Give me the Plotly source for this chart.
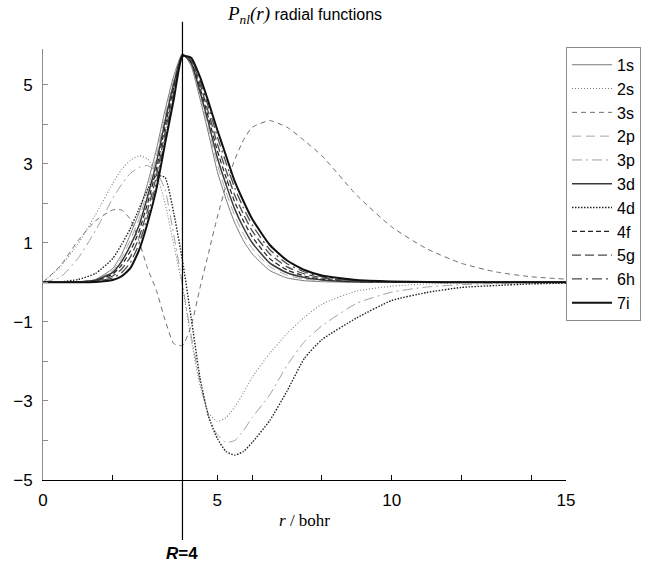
import plotly.graph_objects as go

# ---------------- data ----------------
r = [0, 0.5, 1, 1.5, 2, 2.25, 2.5, 2.75, 3, 3.25, 3.5, 3.75, 4, 4.25, 4.5, 4.75,
     5, 5.25, 5.5, 5.75, 6, 6.5, 7, 7.5, 8, 9, 10, 11, 12, 13, 14, 15]

p_1s = [0, 0, 0.01, 0.07, 0.35, 0.7, 1.2, 1.75, 2.5, 3.35, 4.35, 5.22, 5.79, 5.47, 4.65, 3.75,
        2.8, 2.1, 1.5, 1.05, 0.72, 0.3, 0.11, 0.04, 0.015, 0.002, 0, 0, 0, 0, 0, 0]
p_2s = [0, 0.4, 0.97, 1.7, 2.5, 2.85, 3.08, 3.2, 3.12, 2.75, 2.0, 0.95, -0.1, -1.45, -2.6, -3.3,
        -3.52, -3.42, -3.15, -2.8, -2.4, -1.8, -1.3, -0.88, -0.55, -0.22, -0.1, -0.04, -0.02, -0.01, 0, 0]
p_3s = [0, 0.42, 1.05, 1.55, 1.83, 1.83, 1.6, 1.05, 0.35, -0.2, -0.95, -1.55, -1.6, -1.1, -0.15, 0.75,
        1.65, 2.45, 3.1, 3.6, 3.92, 4.09, 3.92, 3.58, 3.2, 2.2, 1.4, 0.85, 0.48, 0.26, 0.14, 0.08]
p_2p = [0, 0, 0.01, 0.06, 0.30, 0.61, 1.06, 1.59, 2.33, 3.18, 4.21, 5.12, 5.77, 5.52, 4.74, 3.88,
        2.98, 2.28, 1.68, 1.22, 0.86, 0.4, 0.18, 0.08, 0.035, 0.008, 0, 0, 0, 0, 0, 0]
p_3p = [0, 0.13, 0.6, 1.3, 2.12, 2.47, 2.75, 2.9, 2.95, 2.8, 2.35, 1.2, -0.05, -1.35, -2.5, -3.4,
        -3.85, -4.05, -4.0, -3.75, -3.42, -2.85, -2.1, -1.5, -1.1, -0.53, -0.25, -0.12, -0.06, -0.03, -0.01, 0]
p_3d = [0, 0, 0.01, 0.05, 0.25, 0.52, 0.92, 1.43, 2.17, 3.02, 4.07, 5.02, 5.76, 5.55, 4.83, 4.02,
        3.15, 2.47, 1.85, 1.38, 1.0, 0.49, 0.24, 0.12, 0.06, 0.015, 0.005, 0, 0, 0, 0, 0]
p_4d = [0, 0.01, 0.07, 0.22, 0.6, 0.95, 1.35, 1.85, 2.35, 2.7, 2.65, 1.75, 0.55, -0.9, -2.4, -3.4,
        -3.95, -4.28, -4.37, -4.28, -4.05, -3.5, -2.75, -1.92, -1.45, -0.9, -0.46, -0.26, -0.13, -0.08, -0.04, -0.02]
p_4f = [0, 0, 0.01, 0.04, 0.21, 0.43, 0.78, 1.28, 2.0, 2.85, 3.93, 4.92, 5.75, 5.58, 4.93, 4.15,
        3.33, 2.65, 2.03, 1.55, 1.15, 0.6, 0.31, 0.16, 0.08, 0.02, 0.006, 0.002, 0, 0, 0, 0]
p_5g = [0, 0, 0, 0.03, 0.16, 0.33, 0.63, 1.12, 1.83, 2.68, 3.78, 4.82, 5.74, 5.62, 5.02, 4.28,
        3.5, 2.83, 2.2, 1.72, 1.3, 0.72, 0.39, 0.21, 0.11, 0.03, 0.01, 0.003, 0, 0, 0, 0]
p_6h = [0, 0, 0, 0.02, 0.11, 0.24, 0.49, 0.96, 1.67, 2.52, 3.64, 4.72, 5.73, 5.65, 5.11, 4.42,
        3.68, 3.02, 2.38, 1.88, 1.45, 0.83, 0.47, 0.26, 0.14, 0.045, 0.015, 0.005, 0, 0, 0, 0]
p_7i = [0, 0, 0, 0.01, 0.06, 0.15, 0.35, 0.8, 1.5, 2.35, 3.5, 4.62, 5.72, 5.68, 5.2, 4.55,
        3.85, 3.2, 2.55, 2.05, 1.6, 0.95, 0.55, 0.31, 0.17, 0.055, 0.02, 0.007, 0, 0, 0, 0]

labels = ["1s", "2s", "3s", "2p", "3p", "3d", "4d", "4f", "5g", "6h", "7i"]
series = [p_1s, p_2s, p_3s, p_2p, p_3p, p_3d, p_4d, p_4f, p_5g, p_6h, p_7i]

R = 4
x_range = [0, 15]
y_range = [-5, 5.9]
x_tickvals = [0, 5, 10, 15]
x_ticktext = ["0", "5", "10", "15"]
x_minor_ticks = [2, 4, 6, 8, 12, 14]
y_tickvals = [-5, -3, -1, 1, 3, 5]
y_ticktext = ["\u22125", "\u22123", "\u22121", "1", "3", "5"]
y_minor_ticks = [-4, -2, 0, 2, 4]

# ---------------- styles ----------------
styles = {
    "1s": dict(color="#7a7a7a", width=1.0, dash="solid"),
    "2s": dict(color="#808080", width=1.1, dash="1px,2px"),
    "3s": dict(color="#6e6e6e", width=1.0, dash="5px,4px"),
    "2p": dict(color="#a8a8a8", width=1.0, dash="9px,5px"),
    "3p": dict(color="#a0a0a0", width=1.0, dash="10px,4px,2px,4px"),
    "3d": dict(color="#3a3a3a", width=1.5, dash="solid"),
    "4d": dict(color="#222222", width=1.4, dash="1.5px,1.5px"),
    "4f": dict(color="#222222", width=1.2, dash="5px,3px"),
    "5g": dict(color="#4a4a4a", width=1.3, dash="9px,4px"),
    "6h": dict(color="#4a4a4a", width=1.3, dash="10px,4px,2px,4px"),
    "7i": dict(color="#111111", width=2.0, dash="solid"),
}

fig = go.Figure()
for name, ys in zip(labels, series):
    fig.add_trace(go.Scatter(
        x=r, y=ys, mode="lines", name=name,
        line=dict(shape="spline", smoothing=0.5, **styles[name]),
    ))

SANS = "Liberation Sans, Arial, sans-serif"
SERIF = "Liberation Serif, Times New Roman, serif"

fig.update_layout(
    width=653, height=565,
    margin=dict(l=43, r=87, t=49, b=85, autoexpand=False),
    paper_bgcolor="white", plot_bgcolor="white",
    font=dict(family=SANS, size=17, color="black"),
    showlegend=True,
    legend=dict(
        x=1.0, xanchor="left", y=1.005, yanchor="top",
        bgcolor="white", bordercolor="#8c8c8c", borderwidth=1,
        font=dict(family=SANS, size=16, color="black"),
        itemwidth=40, tracegroupgap=0,
    ),
    xaxis=dict(
        range=x_range, showgrid=False, zeroline=False,
        showline=True, linecolor="black", linewidth=1.2,
        ticks="inside", ticklen=5, tickcolor="black", tickwidth=1,
        tickvals=x_tickvals, ticktext=x_ticktext,
        minor=dict(tickvals=x_minor_ticks, ticks="inside", ticklen=5,
                   tickcolor="black", tickwidth=1, showgrid=False),
        tickfont=dict(family=SANS, size=17), ticklabelstandoff=4,
    ),
    yaxis=dict(
        range=y_range, showgrid=False, zeroline=False,
        showline=True, linecolor="#8c8c8c", linewidth=1,
        ticks="inside", ticklen=5, tickcolor="#8c8c8c", tickwidth=1,
        tickvals=y_tickvals, ticktext=y_ticktext,
        minor=dict(tickvals=y_minor_ticks, ticks="inside", ticklen=5,
                   tickcolor="#8c8c8c", tickwidth=1, showgrid=False),
        tickfont=dict(family=SANS, size=17), ticklabelstandoff=6,
    ),
)

# vertical marker line at R
fig.add_shape(type="line", xref="x", yref="paper", x0=R, x1=R, y0=-0.139, y1=1.063,
              line=dict(color="black", width=1.2), layer="above")

fig.add_annotation(
    xref="paper", yref="paper", x=0.5, y=1.079, xanchor="center", yanchor="middle",
    showarrow=False,
    text=('<span style="font-family:Liberation Serif;font-size:19px"><i>P</i>'
          '<sub><i>nl</i></sub><i>(r)</i></span> radial functions'),
    font=dict(family=SANS, size=16, color="black"),
)
fig.add_annotation(
    xref="paper", yref="paper", x=0.5, y=-0.093, xanchor="center", yanchor="middle",
    showarrow=False, text="<i>r</i> / bohr",
    font=dict(family=SERIF, size=17, color="black"),
)
fig.add_annotation(
    xref="x", yref="paper", x=R, y=-0.171, xanchor="center", yanchor="middle",
    showarrow=False, text="<b><i>R</i>=4</b>",
    font=dict(family=SANS, size=17, color="black"),
)

fig.write_html("out.html")
